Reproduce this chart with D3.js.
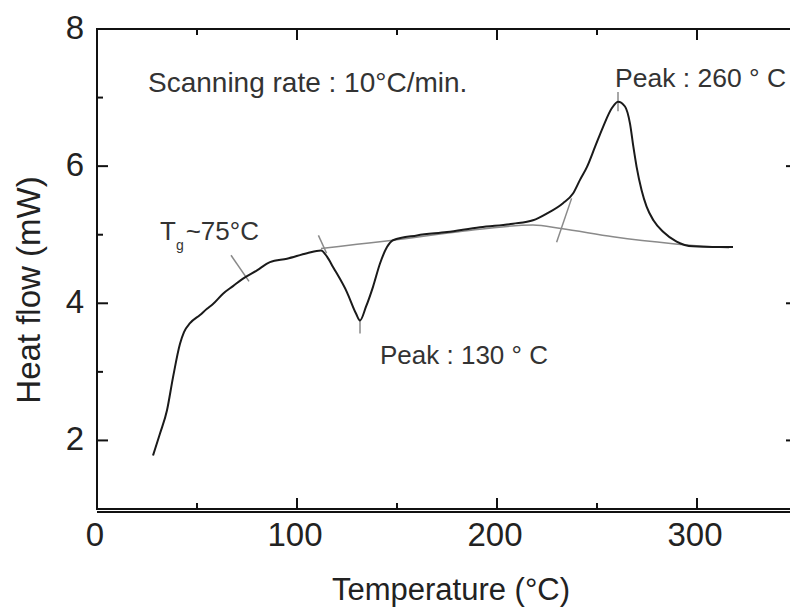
<!DOCTYPE html>
<html>
<head>
<meta charset="utf-8">
<script src="https://cdn.jsdelivr.net/npm/d3@7"></script>
<style>
  body { margin: 0; background: white; overflow: hidden; }
  svg { display: block; }
  text { font-family: 'Liberation Sans', Arial, sans-serif; }
</style>
</head>
<body>
<script>
// DSC trace: temperature (°C) and heat flow (mW)
let temps = [28, 31.5, 35, 38, 41.5, 43.5, 46.5, 51.5, 55, 58, 63, 68, 73, 80, 86.5, 95, 105, 112,
  115, 118, 125, 129.5, 131.5, 134.5, 138, 141.5, 145, 148, 160, 175, 191.5, 208, 218, 225, 233,
  238, 241.5, 245, 249, 253, 257.3, 260.5, 264, 266.5, 268.2, 269.8, 272.3, 274.8, 278.2, 283.2,
  289.8, 298, 308, 318];
let flows = [1.78, 2.1, 2.44, 2.92, 3.41, 3.58, 3.71, 3.83, 3.92, 3.99, 4.14, 4.25, 4.36, 4.48, 4.6,
  4.65, 4.73, 4.77, 4.68, 4.53, 4.16, 3.85, 3.75, 3.95, 4.24, 4.58, 4.82, 4.92, 4.99, 5.04, 5.11,
  5.16, 5.21, 5.31, 5.46, 5.6, 5.8, 5.99, 6.28, 6.57, 6.84, 6.94, 6.87, 6.62, 6.28, 5.99, 5.65,
  5.41, 5.21, 5.04, 4.9, 4.83, 4.82, 4.82];

// extrapolated baseline under the two peaks
let baseTemps = [112, 130, 148, 180, 218, 232, 258, 288, 316];
let baseFlows = [4.8, 4.86, 4.92, 5.04, 5.14, 5.09, 4.97, 4.87, 4.81];

// short construction marks [[t1, f1], [t2, f2]]
let marks = [
  [[67, 4.7], [76, 4.32]],
  [[110.7, 4.99], [114.8, 4.73]],
  [[131.5, 3.75], [131.5, 3.56]],
  [[237.3, 5.53], [229.8, 4.89]],
  [[260.5, 7.08], [260.5, 6.8]]
];

let xTicks = [0, 100, 200, 300];
let xMinor = [50, 150, 250, 350];
let yTicks = [2, 4, 6, 8];
let yMinor = [1, 3, 5, 7];

let dim = { width: 790, height: 608 };
let svg = d3.select('body').append('svg')
  .attr('width', dim.width)
  .attr('height', dim.height);

let plot = { left: 97, right: 797, top: 29, bottom: 509 };
let x = d3.scaleLinear([0, 350], [plot.left, plot.right]);
let y = d3.scaleLinear([1, 8], [plot.bottom, plot.top]);

// baseline, construction marks and the trace
let line = d3.line().x(d => x(d[0])).y(d => y(d[1]));

svg.append('path')
  .datum(d3.zip(baseTemps, baseFlows))
  .attr('d', line.curve(d3.curveMonotoneX))
  .attr('fill', 'none')
  .attr('stroke', '#8a8a8a')
  .attr('stroke-width', 1.5);

svg.append('g').selectAll('path').data(marks).join('path')
  .attr('d', d3.line().x(d => x(d[0])).y(d => y(d[1])))
  .attr('fill', 'none')
  .attr('stroke', '#8a8a8a')
  .attr('stroke-width', 1.5);

svg.append('path')
  .datum(d3.zip(temps, flows))
  .attr('d', d3.line().x(d => x(d[0])).y(d => y(d[1])).curve(d3.curveMonotoneX))
  .attr('fill', 'none')
  .attr('stroke', '#1a1a1a')
  .attr('stroke-width', 2);

// frame: box sides plus inward ticks (long majors, short minors)
let frame = svg.append('g');
frame.append('line')
  .attr('x1', plot.left).attr('x2', dim.width)
  .attr('y1', plot.bottom + 3).attr('y2', plot.bottom + 3)
  .attr('stroke', '#d4d4d4').attr('stroke-width', 2);
frame.append('line')
  .attr('x1', plot.left).attr('x2', plot.right)
  .attr('y1', plot.bottom).attr('y2', plot.bottom)
  .attr('stroke', '#111').attr('stroke-width', 2.5);
frame.append('line')
  .attr('x1', plot.left).attr('x2', plot.right)
  .attr('y1', plot.top).attr('y2', plot.top)
  .attr('stroke', '#111').attr('stroke-width', 2.5);
frame.append('line')
  .attr('x1', plot.right).attr('x2', plot.right)
  .attr('y1', plot.top).attr('y2', plot.bottom)
  .attr('stroke', '#111').attr('stroke-width', 2.5);
frame.append('line')
  .attr('x1', plot.left).attr('x2', plot.left)
  .attr('y1', plot.top - 1).attr('y2', plot.bottom + 1)
  .attr('stroke', '#555').attr('stroke-width', 3.5);

let xt = xTicks.map(v => ({ v, len: 11 })).concat(xMinor.map(v => ({ v, len: 6 })));
let yt = yTicks.map(v => ({ v, len: 11 })).concat(yMinor.map(v => ({ v, len: 6 })));

frame.append('g').selectAll('line').data(xt).join('line')
  .attr('x1', d => x(d.v)).attr('x2', d => x(d.v))
  .attr('y1', plot.bottom).attr('y2', d => plot.bottom - d.len);
frame.append('g').selectAll('line').data(xt).join('line')
  .attr('x1', d => x(d.v)).attr('x2', d => x(d.v))
  .attr('y1', plot.top).attr('y2', d => plot.top + d.len);
frame.append('g').selectAll('line').data(yt).join('line')
  .attr('x1', plot.left).attr('x2', d => plot.left + d.len)
  .attr('y1', d => y(d.v)).attr('y2', d => y(d.v));
frame.append('g').selectAll('line').data(yt).join('line')
  .attr('x1', plot.right).attr('x2', d => plot.right - d.len)
  .attr('y1', d => y(d.v)).attr('y2', d => y(d.v));
frame.selectAll('g line').attr('stroke', '#111').attr('stroke-width', 2);

// tick labels
svg.append('g').selectAll('text').data(xTicks).join('text')
  .attr('x', d => x(d) - 2)
  .attr('y', 546)
  .attr('text-anchor', 'middle')
  .attr('font-size', 33)
  .attr('fill', '#222')
  .text(d => d);

svg.append('g').selectAll('text').data(yTicks).join('text')
  .attr('x', 84)
  .attr('y', d => y(d) + 10)
  .attr('text-anchor', 'end')
  .attr('font-size', 33)
  .attr('fill', '#222')
  .text(d => d);

// axis titles
svg.append('text')
  .attr('x', 451).attr('y', 600)
  .attr('text-anchor', 'middle')
  .attr('font-size', 31)
  .attr('fill', '#222')
  .text('Temperature (°C)');

svg.append('text')
  .attr('transform', 'translate(40,290) rotate(-90)')
  .attr('text-anchor', 'middle')
  .attr('font-size', 33)
  .attr('fill', '#222')
  .text('Heat flow (mW)');

// annotations
let notes = svg.append('g').attr('fill', '#333');
notes.append('text')
  .attr('x', 148).attr('y', 92)
  .attr('font-size', 28)
  .text('Scanning rate : 10°C/min.');
notes.append('text')
  .attr('x', 615).attr('y', 87)
  .attr('font-size', 26.5)
  .text('Peak : 260 ° C');
notes.append('text')
  .attr('x', 380).attr('y', 364)
  .attr('font-size', 26)
  .text('Peak : 130 ° C');

let tg = notes.append('text')
  .attr('x', 160).attr('y', 240)
  .attr('font-size', 26);
tg.append('tspan').text('T');
tg.append('tspan').attr('dy', 10).attr('font-size', 14).text('g');
tg.append('tspan').attr('dy', -10).attr('dx', 2).text('~75°C');
</script>
</body>
</html>
